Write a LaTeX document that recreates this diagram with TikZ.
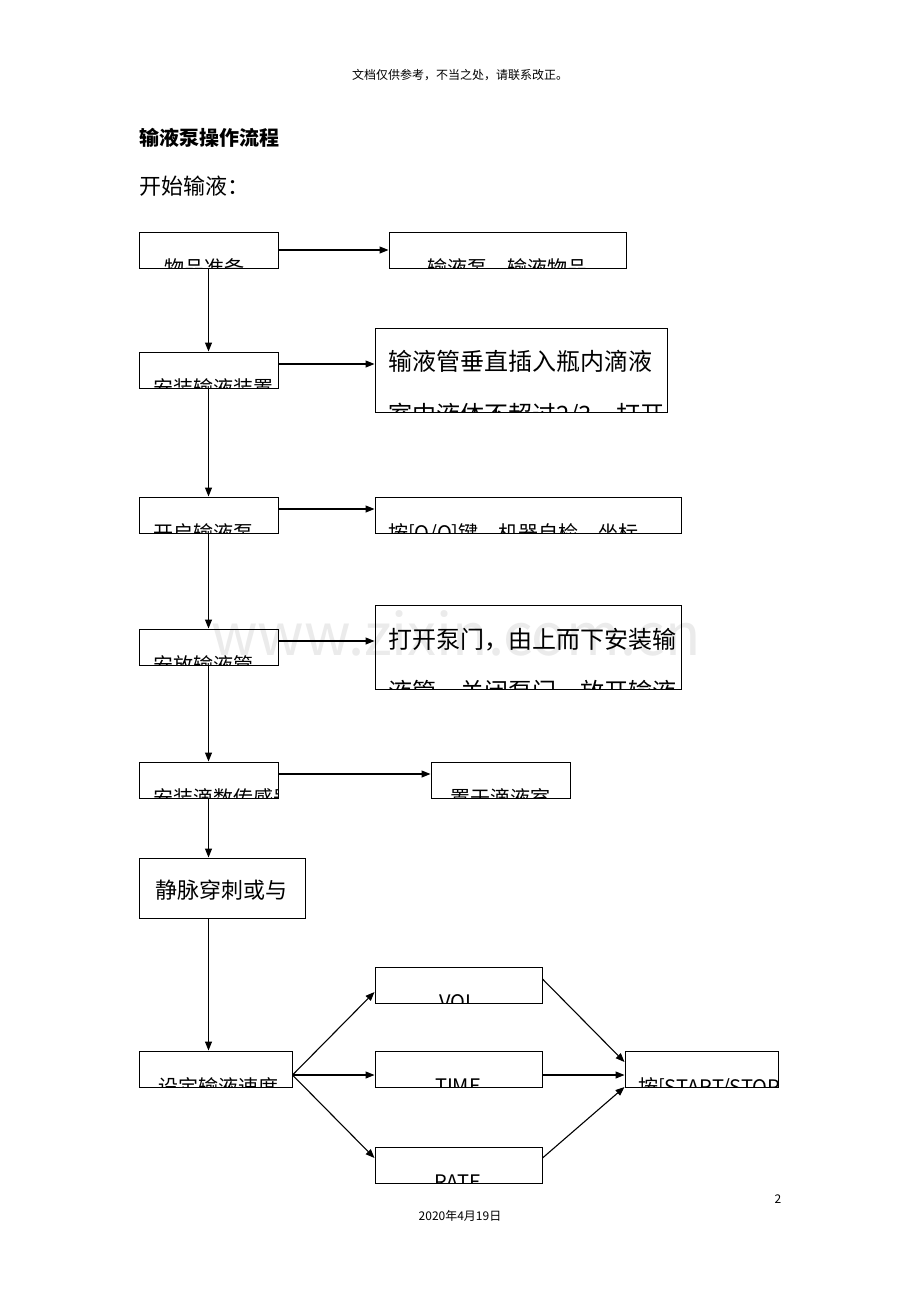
\documentclass[tikz,border=0pt]{standalone}
\usepackage{fontspec}
\setmainfont{Noto Sans CJK SC}
\newfontfamily\cjk{Noto Sans CJK SC}
\usetikzlibrary{fit,calc,arrows.meta}
\newcommand\fs[1]{\fontsize{#1}{#1}\selectfont}
\newcommand\cliptext[5]{% name, anchor point, anchor, font size, text
  \begin{scope}\clip (#1.south west) rectangle (#1.north east);
  \node[anchor=#3,inner sep=0,font=\fs{#4}] (#1t) at #2 {#5};\end{scope}}
\begin{document}
\begin{tikzpicture}[x=1pt,y=-1pt,
  box/.style={draw,line width=1pt,inner sep=0},
  arr/.style={line width=1.1pt,-{Triangle[length=9pt,width=7pt]}}]
\useasboundingbox[fill=white] (0,0) rectangle (920,1302);
\node[anchor=base,font=\fs{58},text=black!8] (wm) at (456,655) {www.zixin.com.cn};
\node[anchor=base,font=\fs{12}] (hd) at (460,79) {文档仅供参考，不当之处，请联系改正。};
\node[anchor=base west,inner sep=0,font=\fs{20}\bfseries] (tt) at (139,145) {输液泵操作流程};
\node[anchor=base west,inner sep=0,font=\fs{22}] (st) at (139,194) {开始输液：};
\node[anchor=base,font=\fs{12}] (pg) at (778,1203) {2};
\node[anchor=base,font=\fs{12}] (dt) at (460,1220) {2020年4月19日};
% boxes
\node[box,fit={(139,232)(278,268)}] (a) {};
\node[box,fit={(389,232)(626,268)}] (b) {};
\node[box,fit={(139,352)(278,388)}] (c) {};
\node[box,fit={(375,328)(667,412)}] (d) {};
\node[box,fit={(139,497)(278,533)}] (e) {};
\node[box,fit={(375,497)(681,533)}] (f) {};
\node[box,fit={(139,629)(278,665)}] (g) {};
\node[box,fit={(375,605)(681,689)}] (h) {};
\node[box,fit={(139,762)(278,798)}] (i) {};
\node[box,fit={(431,762)(570,798)}] (j) {};
\node[box,fit={(139,858)(305,918)}] (k) {};
\node[anchor=base west,inner sep=0,font=\fs{22}] (kt) at (155,898) {静脉穿刺或与};
\node[box,fit={(139,1051)(292,1087)}] (l) {};
\node[box,fit={(375,967)(542,1003)}] (m) {};
\node[box,fit={(375,1051)(542,1087)}] (n) {};
\node[box,fit={(375,1147)(542,1183)}] (o) {};
\node[box,fit={(625,1051)(778,1087)}] (p) {};
% texts
\cliptext{a}{(204,275)}{base}{20}{物品准备}
\cliptext{b}{(507,275)}{base}{20}{输液泵、输液物品}
\cliptext{c}{(153,395)}{base west}{20}{安装输液装置}
\begin{scope}\clip (d.south west) rectangle (d.north east);
\node[anchor=base west,inner sep=0,font=\fs{24}] (dt1) at (388,370) {输液管垂直插入瓶内滴液};
\node[anchor=base west,inner sep=0,font=\fs{24}] (dt2) at (388,423) {室中液体不超过2/3，打开};
\end{scope}
\cliptext{e}{(153,540)}{base west}{20}{开启输液泵}
\cliptext{f}{(388,540)}{base west}{20}{按[O/O]键，机器自检，坐标}
\cliptext{g}{(153,672)}{base west}{20}{安放输液管}
\begin{scope}\clip (h.south west) rectangle (h.north east);
\node[anchor=base west,inner sep=0,font=\fs{24}] (ht1) at (388,648) {打开泵门，由上而下安装输};
\node[anchor=base west,inner sep=0,font=\fs{24}] (ht2) at (388,700) {液管，关闭泵门，放开输液};
\end{scope}
\cliptext{i}{(153,805)}{base west}{20}{安装滴数传感器}
\cliptext{j}{(500,805)}{base}{20}{置于滴液室}
\cliptext{l}{(158,1094)}{base west}{20}{设定输液速度}
\cliptext{m}{(458,1009)}{base}{20}{VOL}
\cliptext{n}{(458,1093)}{base}{20}{TIME}
\cliptext{o}{(458,1189)}{base}{20}{RATE}
\cliptext{p}{(638,1094)}{base west}{20}{按[START/STOP]}
% connectors
\draw[arr] (a) -- (c);
\draw[arr] (c) -- (e);
\draw[arr] (e) -- (g);
\draw[arr] (g) -- (i);
\draw[arr] (i.south) -- (i.south |- k.north);
\draw[arr] (i.south |- k.south) -- (i.south |- l.north);
\draw[arr] (a.east) -- (b.west);
\draw[arr] ([yshift=6]c.east) -- ([yshift=6]c.east -| d.west);
\draw[arr] ([yshift=6]e.east) -- ([yshift=6]e.east -| f.west);
\draw[arr] ([yshift=6]g.east) -- ([yshift=6]g.east -| h.west);
\draw[arr] ([yshift=6]i.east) -- ([yshift=6]i.east -| j.west);
\coordinate (lr) at ([yshift=-6]l.east);
\draw[arr] (lr) -- ([yshift=-7]m.west);
\draw[arr] (lr) -- ([yshift=-6]n.west);
\draw[arr] (lr) -- ([yshift=7]o.west);
\draw[arr] ([yshift=6]m.east) -- ([yshift=7]p.west);
\draw[arr] ([yshift=-6]n.east) -- ([yshift=-6]p.west);
\draw[arr] ([yshift=7]o.east) -- ([yshift=-18]p.west);
\end{tikzpicture}
\end{document}
